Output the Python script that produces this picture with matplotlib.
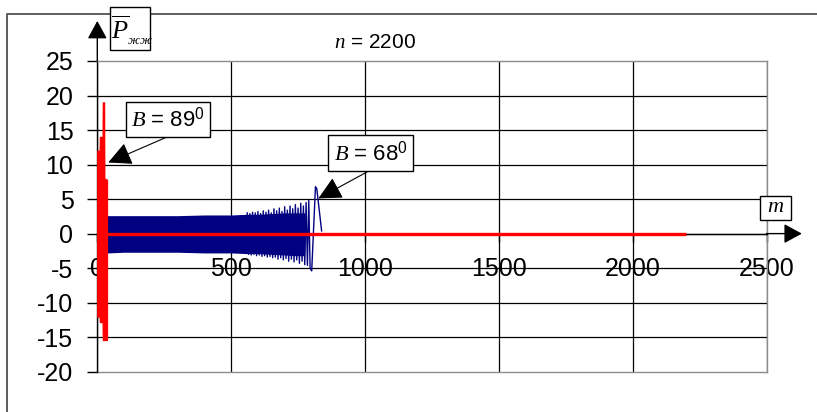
import matplotlib
matplotlib.use("Agg")
import matplotlib.pyplot as plt
from matplotlib.patches import Rectangle
from matplotlib.lines import Line2D

plt.rcParams['font.family'] = ['Liberation Sans', 'DejaVu Sans']
plt.rcParams['mathtext.fontset'] = 'custom'
plt.rcParams['mathtext.rm'] = 'Liberation Sans'
plt.rcParams['mathtext.it'] = 'Liberation Serif:italic'
plt.rcParams['mathtext.bf'] = 'Liberation Sans:bold'
plt.rcParams['path.simplify'] = False

# ---- data -------------------------------------------------------------
# red series (B = 89 deg): envelope of the strong oscillation at the start
red_band_m = [0, 9, 10, 20, 21, 25, 26, 35, 36]
red_band_hi = [12, 12, 14, 14, 19, 19, 8, 7.8, 7.8]
red_band_lo = [-12, -12, -12.8, -12.8, -15.4, -15.4, -15.4, -15.4, -15.4]
# red series: settled at zero up to m = 2200
red_line_m = [36, 2200]
red_line_p = [0, 0]

# blue series (B = 68 deg): dense core of the oscillation (envelope)
blue_band_m = [37, 100, 200, 300, 400, 500, 560, 600, 650, 700, 740, 775]
blue_band_hi = [2.6, 2.6, 2.6, 2.6, 2.7, 2.7, 2.8, 2.8, 2.9, 3.0, 3.0, 3.0]
blue_band_lo = [-2.8, -2.7, -2.7, -2.7, -2.8, -2.8, -2.9, -2.9, -3.0, -3.1, -3.2, -3.2]

# blue series: individual swings towards the end
blue_tail_m = [560, 565, 570, 575, 580, 585, 590, 595, 600, 605,
               610, 615, 620, 625, 630, 635, 640, 645, 650, 655,
               660, 665, 670, 675, 680, 685, 690, 695, 700, 705,
               710, 715, 720, 725, 730, 735, 740, 745, 750, 755,
               760, 765, 770, 775, 780, 785, 790, 795, 801, 815,
               820, 838]
blue_tail_p = [3.0, -3.0, 2.9, -3.1, 3.1, -3.0, 3.0, -3.2, 3.2, -3.1,
               2.9, -3.3, 3.3, -3.2, 3.1, -3.4, 3.4, -3.3, 3.0, -3.5,
               3.6, -3.4, 3.3, -3.7, 3.7, -3.5, 3.2, -3.8, 3.9, -3.6,
               3.4, -4.0, 4.0, -3.7, 3.6, -4.1, 4.2, -3.8, 3.7, -4.3,
               4.4, -4.0, 4.0, -4.5, 4.5, -4.6, 4.8, -5.0, -5.4, 6.8,
               6.5, 0.4]

x_ticks = [0, 500, 1000, 1500, 2000, 2500]
y_ticks = [-20, -15, -10, -5, 0, 5, 10, 15, 20, 25]

# ---- figure -----------------------------------------------------------
W, H = 817, 412
fig = plt.figure(figsize=(W / 100, H / 100), dpi=100)
fig.patch.set_facecolor('white')

L, R, T, B = 97.3, 766.5, 61.0, 371.7
ax = fig.add_axes([L / W, 1 - B / H, (R - L) / W, (B - T) / H])
ax.set_xlim(0, 2500)
ax.set_ylim(-20, 25)

GRAY = '#8c8c8c'

# grid
ax.set_xticks(x_ticks)
ax.set_yticks(y_ticks)
ax.grid(True, color='black', lw=0.9)
ax.set_axisbelow(True)
for tick_val, gl in zip(x_ticks, ax.xaxis.get_gridlines()):
    if tick_val in (0, 2500):
        gl.set_visible(False)
for tick_val, gl in zip(y_ticks, ax.yaxis.get_gridlines()):
    if tick_val in (-20, 25):
        gl.set_visible(False)

# spines: y axis at m = 0, x axis at P = 0, plot frame in gray
ax.spines['bottom'].set_position(('data', 0))
ax.spines['bottom'].set_color('black')
ax.spines['left'].set_color('black')
ax.spines['top'].set_color(GRAY)
ax.spines['right'].set_color(GRAY)
for s in ax.spines.values():
    s.set_linewidth(1.0)
ax.plot([0, 1], [0, 0], transform=ax.transAxes, color=GRAY, lw=1.0, clip_on=False)

ax.tick_params(axis='y', length=7.2, width=1.0, direction='out', pad=10,
               labelsize=18, color='black')
ax.tick_params(axis='x', length=5.8, width=1.0, direction='out', pad=11,
               labelsize=18, color='black')
ax.set_xticklabels([str(v) for v in x_ticks])
ax.set_yticklabels([str(v) for v in y_ticks])

# data
ax.fill_between(blue_band_m, blue_band_lo, blue_band_hi, color='#000080', lw=0, zorder=3)
ax.plot(blue_tail_m, blue_tail_p, color='#000080', lw=1.0, zorder=3)
ax.fill_between(red_band_m, red_band_lo, red_band_hi, facecolor='#ff0000',
                edgecolor='#ff0000', lw=1.0, zorder=4, clip_on=False)
ax.plot(red_line_m, red_line_p, color='#ff0000', lw=2.4, zorder=4,
        solid_capstyle='butt')

# axis arrows
ax.annotate('', xy=(0, 30.8), xytext=(0, 25), annotation_clip=False,
            arrowprops=dict(arrowstyle='-|>,head_length=0.55,head_width=0.3',
                            color='black', lw=1.0, mutation_scale=20,
                            shrinkA=0, shrinkB=0))
ax.annotate('', xy=(2632, 0), xytext=(2500, 0), annotation_clip=False,
            arrowprops=dict(arrowstyle='-|>,head_length=0.55,head_width=0.3',
                            color='black', lw=1.0, mutation_scale=20,
                            shrinkA=0, shrinkB=0))

# callout arrows
for tip, start in (((41, 10.3), (167, H - 137)), ((826, 5.1), (367, H - 172))):
    ax.annotate('', xy=tip, xytext=start, textcoords='figure pixels',
                annotation_clip=False, zorder=6,
                arrowprops=dict(arrowstyle='-|>,head_length=0.8,head_width=0.4',
                                color='black', lw=0.8, mutation_scale=18,
                                shrinkA=0, shrinkB=0))


def box(x0, y0, x1, y1):
    fig.add_artist(Rectangle((x0 / W, 1 - y1 / H), (x1 - x0) / W, (y1 - y0) / H,
                             transform=fig.transFigure, facecolor='white',
                             edgecolor='black', lw=1.0, zorder=10))


def label(x, y, text, size, **kw):
    fig.text(x / W, 1 - y / H, text, ha='center', va='center', fontsize=size,
             zorder=11, **kw)


# outer frame of the figure panel
fig.add_artist(Line2D([7 / W, 7 / W, 1], [0, 1 - 14 / H, 1 - 14 / H],
                      transform=fig.transFigure, color='#505050', lw=1.3, zorder=1))

# y axis title
box(110, 7, 150, 50)
label(132, 30, r'$\overline{P}_{{}_{жж}}$', 19)

# x axis title
box(760, 196, 791, 220)
label(775.5, 207, r'$m$', 16)

# callouts
box(126, 102, 210, 137)
label(168, 119.5, r'$B$ = 89$^0$', 16)
box(328, 135, 413, 171)
label(370.5, 153, r'$B$ = 68$^0$', 16)

label(375, 42, r'$n$ = 2200', 15)

fig.savefig('out.png', dpi=100, facecolor='white')
